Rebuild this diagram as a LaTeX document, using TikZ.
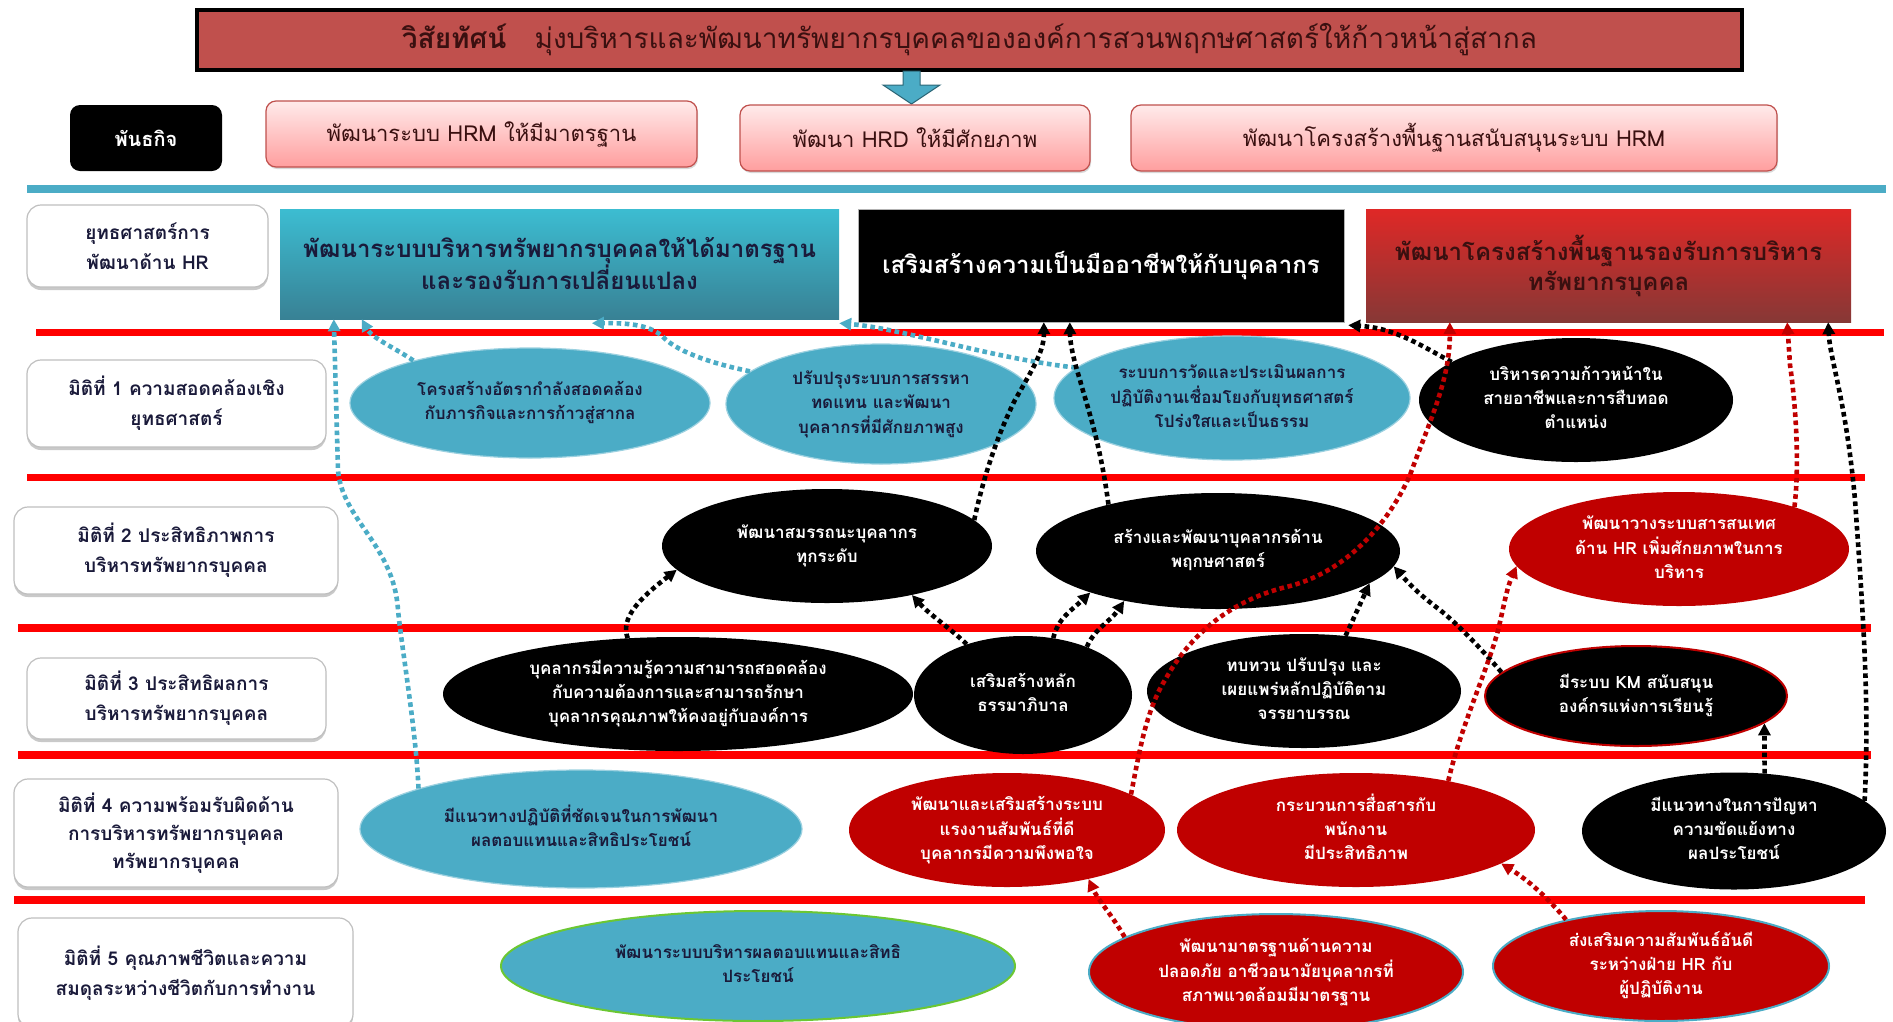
\documentclass[tikz,border=0pt]{standalone}
\usepackage{fontspec}
\newfontfamily\thai[Script=Thai]{Loma}
\usetikzlibrary{shapes.geometric,arrows.meta,shadows,calc}
\definecolor{visc}{HTML}{C0504D}
\definecolor{tealc}{HTML}{4BACC6}
\definecolor{redc}{HTML}{C00000}
\definecolor{lred}{HTML}{FF0000}
\definecolor{navy}{HTML}{1A1A3A}
\definecolor{darkr}{HTML}{3A1010}
\newcommand\ctext[1]{\makebox[0pt]{\begin{tabular}{@{}c@{}}#1\end{tabular}}}
\begin{document}
\begin{tikzpicture}[x=1pt,y=-1pt,
  ell/.style={ellipse, inner sep=0pt, font=\thai\bfseries\fontsize{17}{24}\selectfont},
  esz/.style 2 args={minimum width=#1pt, minimum height=#2pt},
  tealE/.style={ell, fill=tealc, draw=tealc!55!white, line width=1.2pt, text=navy},
  blackE/.style={ell, fill=black, text=white},
  redE/.style={ell, fill=redc, text=white},
  rowlab/.style={draw=gray!50, line width=1.2pt, fill=white, rounded corners=14pt,
     drop shadow={shadow xshift=0pt, shadow yshift=-3pt, fill=gray!70, opacity=0.6},
     font=\thai\bfseries\fontsize{19}{30}\selectfont, text=navy, inner sep=0pt, align=center},
  pinkbox/.style={draw=visc, line width=1.2pt, rounded corners=10pt, top color=red!8, bottom color=red!38,
     drop shadow={shadow xshift=1pt, shadow yshift=-2pt, fill=gray!60, opacity=0.5},
     font=\thai\fontsize{22}{28}\selectfont, text=darkr, inner sep=0pt},
  sbox/.style={inner sep=0pt, align=center, font=\thai\bfseries\fontsize{24}{30}\selectfont},
  dotline/.style={line width=4.6pt, dash pattern=on 4.6pt off 3.6pt, -{Triangle[length=12pt,width=12pt]}},
  tdot/.style={dotline, color=tealc},
  kdot/.style={dotline, color=black},
  rdot/.style={dotline, color=redc},
]
\fill[white] (0,0) rectangle (1893,1021);
\useasboundingbox (0,0) rectangle (1893,1021);

% vision
\node[draw=black, line width=4pt, fill=visc, minimum width=1545pt, minimum height=60pt, inner sep=0pt,
  font=\thai\fontsize{28}{32}\selectfont, text=darkr] (vis) at (969.5,40)
  {{\bfseries วิสัยทัศน์}\quad มุ่งบริหารและพัฒนาทรัพยากรบุคคลขององค์การสวนพฤกษศาสตร์ให้ก้าวหน้าสู่สากล};
\draw[fill=tealc, draw=tealc!60!black, line width=1pt]
  (903,71) -- (920,71) -- (920,85) -- (940,85) -- (911.5,104) -- (883,85) -- (903,85) -- cycle;

% mission
\node[fill=black, rounded corners=10pt, minimum width=152pt, minimum height=66pt, inner sep=0pt,
  font=\thai\bfseries\fontsize{20}{24}\selectfont, text=white] (m0) at (146,138) {พันธกิจ};
\node[pinkbox, minimum width=431pt, minimum height=66pt] (m1) at (481.5,134) {พัฒนาระบบ HRM ให้มีมาตรฐาน};
\node[pinkbox, minimum width=350pt, minimum height=66pt] (m2) at (915,138) {พัฒนา HRD ให้มีศักยภาพ};
\node[pinkbox, minimum width=646pt, minimum height=66pt] (m3) at (1454,138) {พัฒนาโครงสร้างพื้นฐานสนับสนุนระบบ HRM};

\fill[tealc] (27,185) rectangle (1886,193);

% strategy
\node[rowlab, minimum width=241pt, minimum height=82pt] (sl) at (147.5,246) {ยุทธศาสตร์การ\\พัฒนาด้าน HR};
\node[sbox, minimum width=559pt, minimum height=110pt, top color=tealc!80!cyan, bottom color=tealc!75!black, text=navy] (s1) at (559.5,264)
  {พัฒนาระบบบริหารทรัพยากรบุคคลให้ได้มาตรฐาน\\และรองรับการเปลี่ยนแปลง};
\node[sbox, minimum width=486pt, minimum height=113pt, fill=black, draw=gray!60, text=white] (s2) at (1101,265.5)
  {เสริมสร้างความเป็นมืออาชีพให้กับบุคลากร};
\node[sbox, minimum width=485pt, minimum height=113pt, top color=red!50!visc, bottom color=visc!70!black, text=darkr] (s3) at (1608.5,265.5)
  {พัฒนาโครงสร้างพื้นฐานรองรับการบริหาร\\ทรัพยากรบุคคล};

% red separator lines
\fill[lred] (36,329) rectangle (1884,336);
\fill[lred] (27,474) rectangle (1865,481);
\fill[lred] (18,624) rectangle (1871,632);
\fill[lred] (18,751) rectangle (1871,759);
\fill[lred] (14,896) rectangle (1865,904);

% row labels
\node[rowlab, minimum width=299pt, minimum height=87pt] (r1) at (176.5,403.5) {มิติที่ 1 ความสอดคล้องเชิง\\ยุทธศาสตร์};
\node[rowlab, minimum width=324pt, minimum height=87pt] (r2) at (176,550.5) {มิติที่ 2 ประสิทธิภาพการ\\บริหารทรัพยากรบุคคล};
\node[rowlab, minimum width=299pt, minimum height=81pt] (r3) at (176.5,698.5) {มิติที่ 3 ประสิทธิผลการ\\บริหารทรัพยากรบุคคล};
\node[rowlab, minimum width=324pt, minimum height=108pt, font=\thai\bfseries\fontsize{19}{28}\selectfont] (r4) at (176,833) {มิติที่ 4 ความพร้อมรับผิดด้าน\\การบริหารทรัพยากรบุคคล\\ทรัพยากรบุคคล};
\node[rowlab, minimum width=335pt, minimum height=110pt] (r5) at (185.5,973) {มิติที่ 5 คุณภาพชีวิตและความ\\สมดุลระหว่างชีวิตกับการทำงาน};

% row 1
\node[tealE, esz={360}{110}] (e11) at (530,403) {\ctext{โครงสร้างอัตรากำลังสอดคล้อง\\กับภารกิจและการก้าวสู่สากล}};
\node[tealE, esz={310}{120}] (e12) at (881,404) {\ctext{ปรับปรุงระบบการสรรหา\\ทดแทน และพัฒนา\\บุคลากรที่มีศักยภาพสูง}};
\node[tealE, esz={356}{124}] (e13) at (1232,398) {\ctext{ระบบการวัดและประเมินผลการ\\ปฏิบัติงานเชื่อมโยงกับยุทธศาสตร์\\โปร่งใสและเป็นธรรม}};
\node[blackE, esz={314}{124}] (e14) at (1576,400) {\ctext{บริหารความก้าวหน้าใน\\สายอาชีพและการสืบทอด\\ตำแหน่ง}};

% row 2
\node[blackE, esz={330}{114}] (e21) at (827,546) {\ctext{พัฒนาสมรรถนะบุคลากร\\ทุกระดับ}};
\node[blackE, esz={364}{116}] (e22) at (1218,551) {\ctext{สร้างและพัฒนาบุคลากรด้าน\\พฤกษศาสตร์}};
\node[redE, esz={340}{114}] (e23) at (1679,549) {\ctext{พัฒนาวางระบบสารสนเทศ\\ด้าน HR เพิ่มศักยภาพในการ\\บริหาร}};

% row 3
\node[blackE, esz={470}{114}] (e31) at (678,694) {\ctext{บุคลากรมีความรู้ความสามารถสอดคล้อง\\กับความต้องการและสามารถรักษา\\บุคลากรคุณภาพให้คงอยู่กับองค์การ}};
\node[blackE, esz={218}{118}] (e32) at (1023,695) {\ctext{เสริมสร้างหลัก\\ธรรมาภิบาล}};
\node[blackE, esz={314}{114}] (e33) at (1304,691) {\ctext{ทบทวน ปรับปรุง และ\\เผยแพร่หลักปฏิบัติตาม\\จรรยาบรรณ}};
\node[blackE, draw=redc, line width=2pt, esz={302}{100}] (e34) at (1636,696) {\ctext{มีระบบ KM สนับสนุน\\องค์กรแห่งการเรียนรู้}};

% row 4
\node[tealE, esz={442}{118}] (e41) at (581,829) {\ctext{มีแนวทางปฏิบัติที่ชัดเจนในการพัฒนา\\ผลตอบแทนและสิทธิประโยชน์}};
\node[redE, esz={316}{114}] (e42) at (1007,830) {\ctext{พัฒนาและเสริมสร้างระบบ\\แรงงานสัมพันธ์ที่ดี\\บุคลากรมีความพึงพอใจ}};
\node[redE, esz={358}{114}] (e43) at (1356,830) {\ctext{กระบวนการสื่อสารกับ\\พนักงาน\\มีประสิทธิภาพ}};
\node[blackE, esz={304}{117}] (e44) at (1734,831) {\ctext{มีแนวทางในการปัญหา\\ความขัดแย้งทาง\\ผลประโยชน์}};

% row 5
\node[tealE, draw=green!45!olive!80!white, line width=2pt, esz={514}{110}] (e51) at (758,966) {\ctext{พัฒนาระบบบริหารผลตอบแทนและสิทธิ\\ประโยชน์}};
\node[redE, draw=tealc, line width=2pt, esz={374}{116}] (e52) at (1276,972) {\ctext{พัฒนามาตรฐานด้านความ\\ปลอดภัย อาชีวอนามัยบุคลากรที่\\สภาพแวดล้อมมีมาตรฐาน}};
\node[redE, draw=tealc, line width=2pt, esz={336}{110}] (e53) at (1661,966) {\ctext{ส่งเสริมความสัมพันธ์อันดี\\ระหว่างฝ่าย HR กับ\\ผู้ปฏิบัติงาน}};

% teal connectors
\draw[tdot] (e41.166) .. controls (416,730) and (402,650) .. (398,610) .. controls (394,545) and (342,520) .. (338,470) -- ([xshift=54pt]s1.south west);
\draw[tdot] (e11.160) .. controls (395,348) and (372,338) .. ([xshift=82pt]s1.south west);
\draw[tdot] (e12.166) .. controls (705,362) and (675,350) .. (662,336) .. controls (648,324) and (625,323) .. ([xshift=312pt,yshift=-4pt]s1.south west);
\draw[tdot] (e13.169) .. controls (990,358) and (900,328) .. ([yshift=-4pt]s1.south east);

% black connectors
\draw[kdot] (e21.10) .. controls (985,470) and (1000,430) .. (1015,400) .. controls (1035,365) and (1044,350) .. ([xshift=186pt]s2.south west);
\draw[kdot] (e22.157) .. controls (1100,440) and (1085,400) .. (1080,380) .. controls (1072,355) and (1070,340) .. ([xshift=212pt]s2.south west);
\draw[kdot] (e14.163) .. controls (1420,345) and (1395,328) .. ([xshift=4pt,yshift=-3pt]s2.south east);
\draw[kdot] (e44.13) .. controls (1870,700) and (1862,600) .. (1855,500) .. controls (1846,400) and (1830,360) .. ([xshift=-23pt]s3.south east);
\draw[kdot] (e44.62) -- (e34.-12);
\draw[kdot] (e33.53) -- (e22.-12);
\draw[kdot] (e34.170) .. controls (1478,645) and (1455,622) .. (1440,610) .. controls (1420,595) and (1410,585) .. (e22.-5);
\draw[kdot] (e32.62) .. controls (1058,618) and (1072,610) .. (e22.198);
\draw[kdot] (e32.37) .. controls (1095,628) and (1110,622) .. (e22.208);
\draw[kdot] (e32.138) .. controls (950,628) and (930,615) .. (e21.-30);
\draw[kdot] (e31.132) .. controls (620,618) and (640,598) .. (e21.189);

% red connectors
\draw[rdot] (e42.16) .. controls (1138,760) and (1145,712) .. (1165,680) .. controls (1190,635) and (1230,600) .. (1290,586) .. controls (1350,570) and (1390,520) .. (1410,475) .. controls (1430,420) and (1450,380) .. ([xshift=84pt]s3.south west);
\draw[rdot] (e43.28) .. controls (1462,722) and (1492,660) .. (1500,622) .. controls (1505,600) and (1507,588) .. (e23.186);
\draw[rdot] (e23.20) .. controls (1800,460) and (1795,400) .. (1790,365) -- ([xshift=-64pt]s3.south east);
\draw[rdot] (e52.167) .. controls (1112,915) and (1098,900) .. (e42.-31);
\draw[rdot] (e53.154) .. controls (1548,898) and (1528,880) .. (e43.-13);
\end{tikzpicture}
\end{document}
